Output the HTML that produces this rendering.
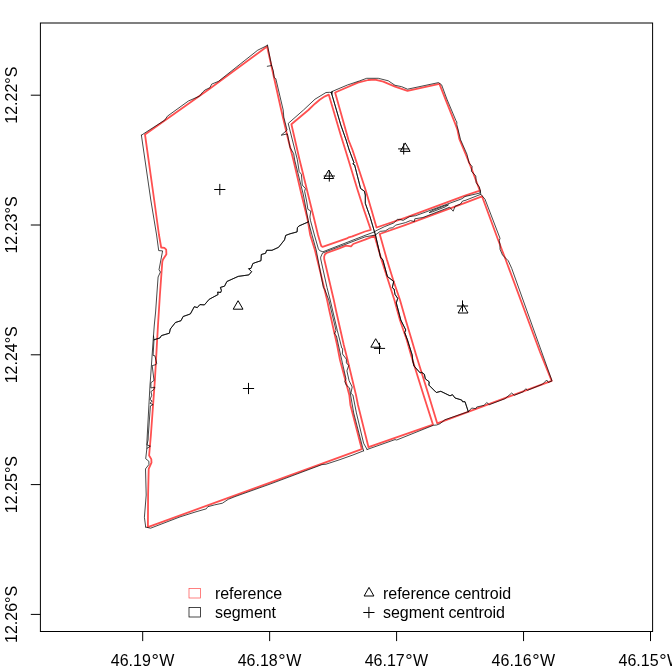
<!DOCTYPE html>
<html><head><meta charset="utf-8"><title>plot</title>
<style>html,body{margin:0;padding:0;background:#fff;overflow:hidden}svg{display:block;will-change:transform}</style>
</head><body>
<svg width="672" height="672" viewBox="0 0 672 672">
<rect width="672" height="672" fill="#fff"/>
<g fill="none" stroke="#ff5050" stroke-width="1.8" stroke-linejoin="round">
<polygon points="145.0,134.5 210.0,88.5 267.1,46.5 281.2,110.0 288.3,140.0 293.4,160.0 301.6,195.0 307.7,220.0 310.2,235.0 314.9,250.0 327.1,300.0 329.2,310.0 337.1,345.0 340.0,360.0 349.3,395.0 350.4,405.0 361.8,449.2 147.9,527.1 148.1,495.0 148.7,468.9 151.5,462.7 151.3,459.1 149.1,455.5 150.9,435.0 154.9,380.0 158.0,325.0 159.9,295.0 162.3,261.8 163.0,259.6 166.4,254.2 166.2,249.7 164.4,247.9 161.2,247.5 159.0,235.0 154.2,200.0"/>
<polygon points="291.4,124.3 308.4,110.0 315.0,103.7 320.0,99.5 325.0,96.3 328.8,94.7 340.7,135.0 345.4,150.0 357.6,190.0 364.0,210.0 370.8,229.8 365.0,231.5 352.3,236.4 348.8,237.3 347.0,238.4 322.6,246.9 321.5,246.3 320.9,245.0 318.0,235.0 314.4,220.0 308.2,195.0 302.1,170.0 299.6,160.0"/>
<polygon points="335.1,92.5 357.9,82.7 368.3,80.0 375.0,79.7 383.3,81.7 395.0,86.7 407.5,90.8 439.4,83.9 446.1,100.9 455.0,123.2 457.5,130.0 459.3,138.9 466.0,155.0 471.8,169.3 475.8,180.0 479.9,190.6 465.0,195.6 405.0,217.9 376.5,227.5 371.5,210.0 365.6,190.0 352.5,150.0 348.5,140.0"/>
<polygon points="324.2,259.0 324.2,256.5 325.0,254.3 326.6,253.0 338.6,248.6 346.1,245.6 351.0,246.4 353.2,244.0 365.0,239.6 374.5,235.8 381.6,260.0 394.4,300.0 399.9,320.0 406.8,340.0 411.0,355.0 423.5,395.0 433.0,424.7 395.0,437.9 368.5,447.2 358.0,405.0 356.0,395.0 347.6,360.0 343.8,345.0 335.9,310.0 333.8,300.0"/>
<polygon points="379.7,234.0 405.0,225.1 465.0,202.8 482.0,196.3 497.5,238.3 505.8,260.0 540.0,352.0 551.7,380.8 437.2,423.3 428.6,395.0 416.1,355.0 411.7,340.0 405.7,320.0 400.0,300.0 393.2,280.0 387.0,260.0"/>
</g>
<g fill="none" stroke="#000000" stroke-width="0.72" stroke-linejoin="round" stroke-linecap="round">
<polyline points="141.4,135.2 150.0,129.6 164.7,120.2 167.4,116.2 188.4,101.0 199.6,96.1 202.7,92.1 205.0,90.0 209.9,87.7 211.7,84.1 218.4,81.4 257.7,50.2 265.0,46.6 267.5,45.2"/>
<polyline points="267.5,45.2 271.5,65.3 273.3,70.8 274.2,77.5 275.8,78.7 283.2,110.0 283.8,117.1 286.5,127.9 287.1,130.1 281.2,135.2 287.4,133.9 289.2,143.0 290.1,147.5 293.7,153.7 294.7,160.0 303.4,195.0 308.4,221.5 312.0,235.0 316.2,250.0 323.4,287.5 324.7,289.3 328.8,300.0 336.0,330.4 334.5,333.9 336.4,335.7 338.4,345.0 342.4,362.9 346.0,378.9 344.8,381.6 346.4,385.2 349.5,387.9 350.6,395.0 353.7,412.9 362.7,447.7 363.6,450.8"/>
<polyline points="267.3,66.3 271.6,65.5"/>
<polyline points="363.6,450.8 352.9,455.0 340.0,459.6 326.0,464.2 322.0,464.6 270.0,484.1 235.0,496.6 228.3,499.3 222.4,503.2 214.6,504.9 207.8,506.7 206.3,508.8 195.0,512.1 180.0,516.9 150.6,528.2 145.7,527.1"/>
<polyline points="141.4,135.2 150.8,200.0 156.6,235.0 158.7,250.6 162.6,250.9 159.0,269.8 160.4,272.0 158.1,277.0 156.8,295.0 155.6,312.0 154.3,325.0 153.2,339.7 150.4,380.0 150.0,385.0 147.0,440.0 146.9,444.8 146.9,448.4 145.7,458.7 148.9,461.3 148.9,464.5 145.5,468.9 146.2,495.0 144.4,517.3 145.7,527.1"/>
<polyline points="153.5,336.0 154.0,339.7 153.1,355.4 154.9,355.8 156.7,363.4 155.8,364.7 152.2,365.6 154.0,380.4 151.8,382.1 150.9,382.7 150.9,388.0 154.9,387.1 153.6,389.8 150.9,391.6 151.8,395.2 150.0,399.6 152.2,401.0 150.0,403.2 153.1,404.6 150.4,405.9 148.3,435.0 148.1,440.0 146.9,444.8 150.4,446.2 146.9,448.4"/>
<polyline points="153.9,339.8 159.9,338.0 161.4,335.6 169.4,333.2 170.3,329.0 175.4,322.5 181.0,320.7 183.1,316.5 188.0,314.8 190.4,313.9 194.3,306.7 197.3,307.6 199.9,304.6 204.4,304.9 209.2,299.3 218.1,294.5 217.6,292.1 220.7,292.5 221.4,290.4 220.4,287.4 224.5,286.2 226.9,281.5 238.2,276.4 248.9,274.9 251.6,271.7 248.6,268.7 251.0,268.4 252.8,263.6 255.0,262.7 261.0,260.7 261.3,254.5 265.5,253.3 266.7,250.3 272.0,250.3 278.6,247.3 284.5,239.9 285.7,235.4 290.0,233.8 297.1,231.9 297.4,227.7 298.9,226.0 307.9,222.1 308.4,221.5"/>
<polyline points="153.9,339.8 159.9,338.0 161.4,335.6 169.4,333.2 170.3,329.0 175.4,322.5 181.0,320.7 183.1,316.5 188.0,314.8 190.4,313.9 194.3,306.7 197.3,307.6 199.9,304.6 204.4,304.9 209.2,299.3 218.1,294.5 217.6,292.1 220.7,292.5 221.4,290.4 220.4,287.4 224.5,286.2 226.9,281.5 238.2,276.4 248.9,274.9 251.6,271.7 248.6,268.7 251.0,268.4 252.8,263.6 255.0,262.7 261.0,260.7 261.3,254.5 265.5,253.3 266.7,250.3 272.0,250.3 278.6,247.3 284.5,239.9 285.7,235.4 290.0,233.8 297.1,231.9 297.4,227.7 298.9,226.0 307.9,222.1 308.4,221.5"/>
<polygon points="288.5,123.2 303.5,110.0 315.0,99.2 326.0,92.5 329.8,92.3 331.4,92.6 331.9,94.5 340.8,125.0 346.1,140.0 349.2,150.0 354.0,162.8 352.8,164.0 354.6,164.9 360.6,188.5 364.4,191.2 365.3,195.0 365.3,203.3 370.0,216.7 374.5,231.9 365.0,235.4 322.9,251.8 319.7,250.7 318.4,248.9 314.4,235.0 310.5,220.6 309.9,217.0 310.8,211.1 307.9,209.3 306.8,202.0 304.6,191.2 305.4,188.6 302.3,185.0 301.4,174.3 299.2,171.6 297.4,160.0"/>
<polyline points="331.6,92.0 332.8,91.2 347.4,85.0 359.6,80.9 366.7,78.3 378.3,78.3 388.3,80.8 395.0,85.3 401.7,86.7 407.5,89.2 438.5,82.6 441.6,84.8 446.9,99.1 455.9,120.5 456.8,121.9 456.8,124.6 458.2,130.0 460.6,139.8 466.9,154.1 469.1,163.0 472.2,166.6 471.3,171.1 475.8,176.0 476.2,182.7 479.4,187.1 480.3,190.8 480.0,193.0 465.0,196.5 462.1,198.7 415.7,215.7 409.5,216.6 405.0,219.3 403.1,220.4 400.0,219.4 397.4,219.4 393.7,223.0 384.4,226.7 376.0,230.8 374.5,231.9"/>
<polygon points="331.3,92.0 332.6,91.4 331.9,94.0"/>
<polyline points="375.5,235.0 376.0,234.5 380.2,231.4 385.4,230.8 389.6,228.2 392.7,227.7 395.8,225.1 405.5,222.6 410.4,220.6 414.4,221.5 414.8,218.8 422.9,217.5 449.6,207.2 453.2,211.2 455.0,206.3 460.4,204.1 462.6,201.0 465.0,200.5 480.8,194.3 485.0,199.2 500.0,238.3 499.2,240.8 500.0,244.2 500.0,249.2 502.5,255.0 508.3,260.8 511.7,268.3 541.7,352.0 552.0,380.8 548.3,382.5 546.7,380.0 542.5,384.2 527.5,390.3 525.8,388.7 523.3,391.7 514.2,395.3 511.7,393.0 505.0,398.7 489.2,404.7 486.7,402.5 484.2,405.3 476.7,407.0 475.8,408.7 471.7,408.0 468.3,411.7 445.0,419.7 440.0,423.7 436.7,425.0 433.3,425.3 396.7,440.0 395.0,439.6 367.1,449.5"/>
<polyline points="480.3,190.8 480.8,194.3"/>
<polygon points="429.5,212.4 433.0,210.3 445.0,205.7 448.5,204.8 445.0,207.0 433.0,211.6"/>
<polyline points="374.5,231.9 375.5,235.0 380.7,257.9 381.8,258.4 382.9,260.0 387.4,276.5 393.7,281.4 392.3,287.7 394.1,289.0 395.0,294.4 397.7,298.4 396.3,302.9 400.8,320.0 405.8,330.0 404.7,332.5 407.5,340.0 412.2,355.0 412.8,361.0 414.0,366.0 420.2,372.9 421.7,372.3 424.4,374.3 425.3,378.8 429.2,381.8 428.9,385.1 436.3,392.5 440.8,391.3 450.0,395.8 452.5,394.7 455.0,398.0 461.7,400.0 462.5,401.7 465.0,401.7 468.3,411.7"/>
<polyline points="374.5,231.9 375.5,235.0 380.7,257.9 381.8,258.4 382.9,260.0 387.4,276.5 393.7,281.4 392.3,287.7 394.1,289.0 395.0,294.4 397.7,298.4 396.3,302.9 400.8,320.0 405.8,330.0 404.7,332.5 407.5,340.0 412.2,355.0 412.8,361.0 414.0,366.0 420.2,372.9 421.7,372.3 424.4,374.3 425.3,378.8 429.2,381.8 428.9,385.1 436.3,392.5 440.8,391.3 450.0,395.8 452.5,394.7 455.0,398.0 461.7,400.0 462.5,401.7 465.0,401.7 468.3,411.7"/>
<polyline points="331.4,92.6 331.9,94.5 340.8,125.0 346.1,140.0 349.2,150.0 354.0,162.8 352.8,164.0 354.6,164.9 360.6,188.5 364.4,191.2 365.3,195.0 365.3,203.3 370.0,216.7 374.5,231.9"/>
<polyline points="375.5,235.0 365.0,236.9 327.0,251.3 322.5,253.1 320.7,257.1 320.7,258.9 327.0,287.5 330.2,300.0 337.3,330.4 341.8,348.2 342.7,348.7 342.4,353.9 346.4,359.3 346.4,362.9 348.7,365.5 346.9,370.9 349.1,380.7 352.2,387.0 350.9,393.2 352.9,395.0 356.4,412.9 363.6,443.2 367.1,449.5"/>
</g>
<g fill="none" stroke="#000000" stroke-width="1" stroke-linejoin="miter" stroke-linecap="butt">
<polygon points="328.8,170.0 333.7,178.5 323.9,178.5"/>
<polygon points="405.2,142.9 410.1,151.4 400.3,151.4"/>
<polygon points="238.1,300.7 243.0,309.2 233.2,309.2"/>
<polygon points="375.7,338.7 380.6,347.2 370.8,347.2"/>
<polygon points="463.1,304.4 468.0,313.0 458.1,313.0"/>
<polygon points="369.0,587.4 373.9,596.0 364.1,596.0"/>
<path d="M323.7 176.0H334.9M329.3 170.4V181.6"/>
<path d="M398.1 148.9H409.3M403.7 143.3V154.5"/>
<path d="M214.2 189.5H225.4M219.8 183.9V195.1"/>
<path d="M242.9 388.5H254.1M248.5 382.9V394.1"/>
<path d="M373.9 348.4H385.1M379.5 342.8V354.0"/>
<path d="M456.9 306.0H468.1M462.5 300.4V311.6"/>
<path d="M363.3 612.5H374.5M368.9 606.9V618.1"/>
<rect x="189" y="607.5" width="11.5" height="9.5" stroke-width="0.72"/>
<rect x="40.4" y="23" width="612.2" height="608.5"/>
<path d="M142.70 631.5V641.1"/>
<path d="M269.65 631.5V641.1"/>
<path d="M396.60 631.5V641.1"/>
<path d="M523.55 631.5V641.1"/>
<path d="M650.50 631.5V641.1"/>
<path d="M40.4 95.20H30.8"/>
<path d="M40.4 225.00H30.8"/>
<path d="M40.4 354.80H30.8"/>
<path d="M40.4 484.60H30.8"/>
<path d="M40.4 614.40H30.8"/>
</g>
<rect x="189" y="588.5" width="11.5" height="9.5" fill="none" stroke="#ff5050" stroke-width="0.72"/>
<g font-family="Liberation Sans, sans-serif" font-size="16" fill="#000">
<text x="110.75" y="665.5">46.19<tspan dx="0.6" dy="1.8" font-size="18.5">°</tspan><tspan dx="0.4" dy="-1.8">W</tspan></text>
<text x="237.70" y="665.5">46.18<tspan dx="0.6" dy="1.8" font-size="18.5">°</tspan><tspan dx="0.4" dy="-1.8">W</tspan></text>
<text x="364.65" y="665.5">46.17<tspan dx="0.6" dy="1.8" font-size="18.5">°</tspan><tspan dx="0.4" dy="-1.8">W</tspan></text>
<text x="491.60" y="665.5">46.16<tspan dx="0.6" dy="1.8" font-size="18.5">°</tspan><tspan dx="0.4" dy="-1.8">W</tspan></text>
<text x="618.55" y="665.5">46.15<tspan dx="0.6" dy="1.8" font-size="18.5">°</tspan><tspan dx="0.4" dy="-1.8">W</tspan></text>
<text transform="translate(17 95.20) rotate(-90)" text-anchor="middle">12.22°S</text>
<text transform="translate(17 225.00) rotate(-90)" text-anchor="middle">12.23°S</text>
<text transform="translate(17 354.80) rotate(-90)" text-anchor="middle">12.24°S</text>
<text transform="translate(17 484.60) rotate(-90)" text-anchor="middle">12.25°S</text>
<text transform="translate(17 614.40) rotate(-90)" text-anchor="middle">12.26°S</text>
<g letter-spacing="-0.06">
<text x="215" y="598.5">reference</text>
<text x="215" y="618">segment</text>
<text x="383.1" y="598.5">reference centroid</text>
<text x="383.1" y="618">segment centroid</text>
</g>
</g>
</svg>
</body></html>
